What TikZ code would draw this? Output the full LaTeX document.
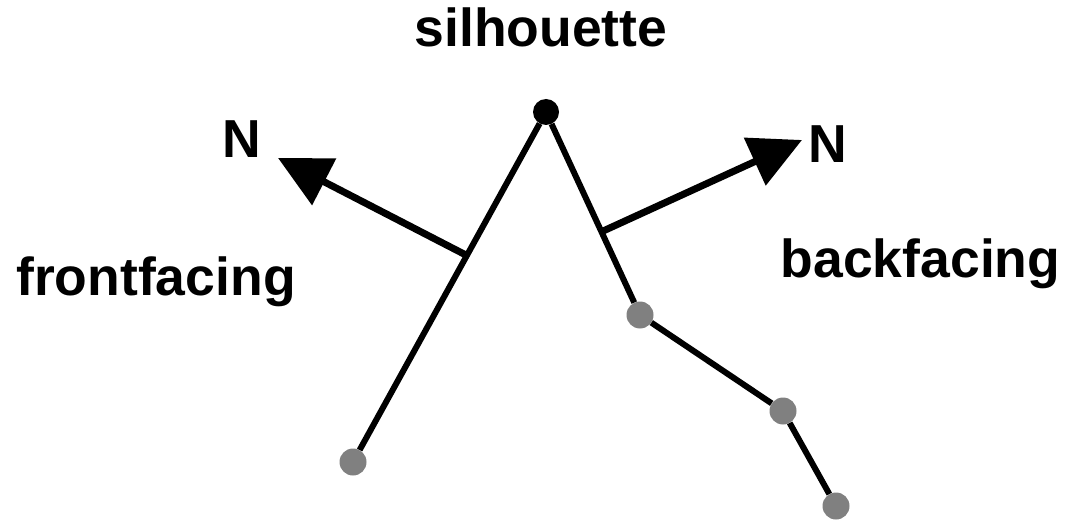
\documentclass[tikz,border=0pt]{standalone}
\usepackage{fontspec}
\setmainfont{Liberation Sans}
\usetikzlibrary{arrows.meta,calc}
\definecolor{dotgray}{RGB}{128,128,128}

\tikzset{
  edge/.style={line width=6pt},
  normal/.style={line width=7pt, -{Triangle[length=52pt,width=51pt]}},
  vtx/.style={circle, fill=dotgray, minimum size=27pt, inner sep=0pt},
  label/.style={inner sep=0pt, anchor=base, font=\bfseries\fontsize{53.5}{60}\selectfont}
}

\begin{document}
\begin{tikzpicture}[x=1pt, y=-1pt, line join=bevel]
\useasboundingbox (0,0) rectangle (1070,521);

\node[vtx, fill=black, minimum size=26pt] (top) at (546,112) {};
\node[vtx] (f1) at (353,462) {};
\node[vtx] (b1) at (640,315) {};
\node[vtx] (b2) at (783,411) {};
\node[vtx] (b3) at (836,506) {};

\draw[edge] (top) -- (f1);
\draw[edge] (top) -- (b1) -- (b2) -- (b3);

\coordinate (fbase) at ($(top)!0.41!(f1)$);
\coordinate (bbase) at ($(top)!0.59!(b1)$);
\coordinate (ftip) at (278,158);
\coordinate (btip) at (802,140);

\draw[normal] (fbase) -- (ftip);
\draw[normal] (bbase) -- (btip);

\node[label] (sil) at (541,47) {silhouette};
\node[label] (nf) at (241.5,158) {N};
\node[label] (nb) at (828,163) {N};
\node[label] (front) at (156,295) {frontfacing};
\node[label] (back) at (920.5,277) {backfacing};

\end{tikzpicture}
\end{document}
